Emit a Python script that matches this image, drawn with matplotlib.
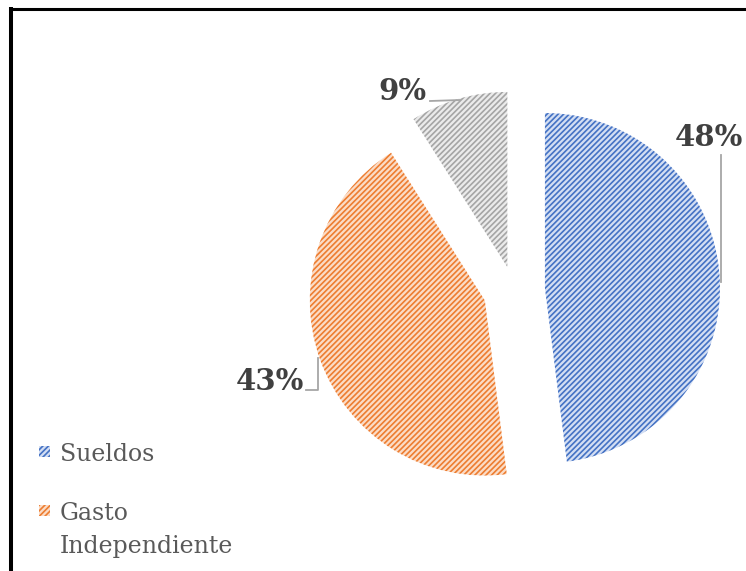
# Pie chart of spending shares (Sueldos / Gasto Independiente / other)
import matplotlib.pyplot as plt
from matplotlib.patches import Rectangle

categories = ['Sueldos', 'Gasto\nIndependiente', 'Otros']
shares = [48, 43, 9]
line_colors = ['#4472C4', '#ED7D31', '#A5A5A5']
fill_colors = ['#D3DEF3', '#FBDCC6', '#EBEBEB']

W, H = 746, 571
plt.rcParams['hatch.linewidth'] = 1.2
plt.rcParams['font.family'] = ['DejaVu Serif']


def py(y):
    """Pixel row (from the top) to data y."""
    return H - y


fig = plt.figure(figsize=(W / 100, H / 100), dpi=100)
ax = fig.add_axes([0, 0, 1, 1])

radius = 175
# explode is in data units here (pixels)
wedges, _ = ax.pie(shares,
                   explode=[31, 31, 24],
                   center=(514, py(290)),
                   radius=radius,
                   startangle=90,
                   counterclock=False,
                   colors=fill_colors,
                   wedgeprops=dict(linewidth=0, hatch='//////'))
for w, c in zip(wedges, line_colors):
    w.set_edgecolor(c)
    w.set_linewidth(0)

ax.set_xlim(0, W)
ax.set_ylim(0, H)
ax.set_aspect('auto')
ax.axis('off')

# percentage labels with leader lines
label_pos = [(709, 137), (270, 382), (402, 92)]
leaders = [([721, 721], [155, 282]),
           ([306, 318, 318], [390, 390, 358]),
           ([430, 460], [101, 100])]
for s, (lx, ly), (xs, ys) in zip(shares, label_pos, leaders):
    ax.plot(xs, [py(v) for v in ys], color='#A6A6A6', lw=1.3)
    ax.text(lx, py(ly), f'{s}%', ha='center', va='center',
            fontsize=21, fontweight='bold', color='#404040')

# legend: only the first two entries fit inside the picture
base = 461
for name, fc, ec in zip(categories[:2], fill_colors, line_colors):
    extra = name.count('\n')
    ax.add_patch(Rectangle((39, py(base) + 4), 11, 11, facecolor=fc,
                           edgecolor=ec, linewidth=0, hatch='//////'))
    # va='baseline' anchors the last line, so shift down for wrapped names
    ax.text(60, py(base + 33 * extra), name, ha='left', va='baseline',
            fontsize=17, color='#595959', linespacing=1.55)
    base += 59 + 33 * extra

# outer frame (only top and left edges visible)
ax.plot([11, W], [py(8.5), py(8.5)], color='black', lw=2.2,
        solid_capstyle='butt')
ax.plot([11, 11], [py(7), 0], color='black', lw=2.9, solid_capstyle='butt')

fig.savefig('out.png', dpi=100)
